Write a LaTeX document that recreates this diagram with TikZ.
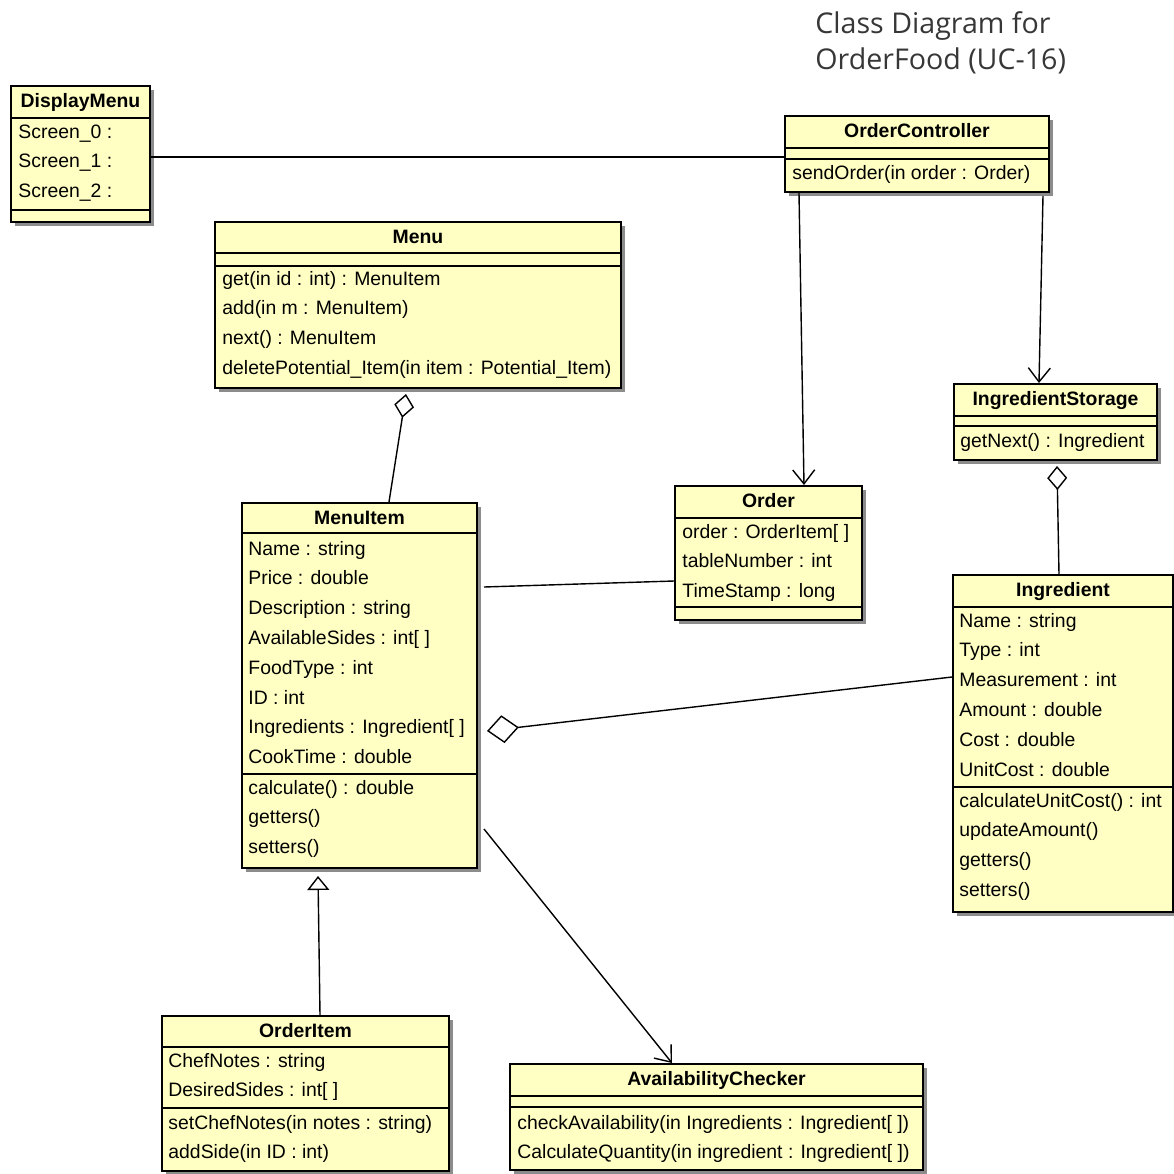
\documentclass[tikz,border=0pt]{standalone}
\usepackage{fontspec}
\setmainfont{Liberation Sans}
\newfontfamily\headfont{Open Sans}
\usetikzlibrary{arrows.meta,shadows,fit,calc}
\definecolor{classfill}{RGB}{255,255,196}
\definecolor{headgrey}{RGB}{55,55,55}

\tikzset{
  classbox/.style={draw=black, line width=1pt, fill=classfill, inner sep=0pt,
    drop shadow={shadow xshift=2pt, shadow yshift=-2pt, opacity=1, fill=black!45}},
  sepline/.style={line width=1pt},
  row/.style={inner sep=0pt, font=\fontsize{9.7}{12}\selectfont},
  ctitle/.style={inner sep=0pt, font=\fontsize{9.7}{12}\selectfont\bfseries},
  assoc/.style={line width=0.7pt},
  nav/.style={assoc, -{Straight Barb[length=7pt,width=11pt]}},
  agg/.style={assoc, -{Diamond[open,length=12pt,width=10pt]}},
  bigagg/.style={assoc, -{Diamond[open,length=16pt,width=14pt]}},
  inherit/.style={assoc, -{Triangle[open,length=7pt,width=11pt]}},
}

% class frame: name, left, top, right, bottom, class name
\newcommand{\umlclass}[6]{%
  \node[classbox, fit={(#2,#3) (#4,#5)}] (#1) {};
  \node[ctitle, anchor=base] (#1-title) at ({(#2+#4)/2},#3+21) {#6};
}
% compartment separator: left, right, y
\newcommand{\csep}[3]{\draw[sepline] (#1,#3) -- (#2,#3);}
% compartment rows: name prefix, x, first baseline, list of rows
\newcommand{\rows}[4]{%
  \foreach \t [count=\i] in {#4} {%
    \node[row, anchor=base west] (#1\i) at (#2,{#3+(\i-1)*29.8}) {\t};}%
}

\begin{document}
\begin{tikzpicture}[x=0.5pt,y=-0.5pt]
\useasboundingbox (0,0) rectangle (1174,1174);
\fill[white] (0,0) rectangle (1174,1174);

% heading (base anchor sits on the last line)
\node[font=\headfont\fontsize{14.3}{18}\selectfont, text=headgrey, align=left,
      anchor=base west, inner sep=0pt] (heading) at (815,69)
      {Class Diagram for\\OrderFood (UC-16)};

% DisplayMenu
\umlclass{dm}{11}{86}{150}{222}{DisplayMenu}
\csep{11}{150}{118}
\csep{11}{150}{210}
\rows{dm-a}{18}{138}{{Screen\_0 :},{Screen\_1 :},{Screen\_2 :}}

% OrderController
\umlclass{oc}{785}{116}{1049}{192}{OrderController}
\csep{785}{1049}{148}
\csep{785}{1049}{159}
\rows{oc-o}{792}{179}{{sendOrder(in order : Order)}}

% Menu
\umlclass{menu}{215}{222}{621}{388}{Menu}
\csep{215}{621}{253}
\csep{215}{621}{266}
\rows{menu-o}{222}{285}{{get(in id : int) : MenuItem},{add(in m : MenuItem)},{next() : MenuItem},{deletePotential\_Item(in item : Potential\_Item)}}

% MenuItem
\umlclass{mi}{242}{503}{477}{868}{MenuItem}
\csep{242}{477}{533}
\csep{242}{477}{774}
\rows{mi-a}{248}{555}{{Name : string},{Price : double},{Description : string},{AvailableSides : int[ ]},{FoodType : int},{ID : int},{Ingredients : Ingredient[ ]},{CookTime : double}}
\rows{mi-o}{248}{794}{{calculate() : double},{getters()},{setters()}}

% Order
\umlclass{order}{675}{486}{862}{620}{Order}
\csep{675}{862}{518}
\csep{675}{862}{607}
\rows{order-a}{682}{538}{{order : OrderItem[ ]},{tableNumber : int},{TimeStamp : long}}

% IngredientStorage
\umlclass{is}{954}{384}{1157}{460}{IngredientStorage}
\csep{954}{1157}{416}
\csep{954}{1157}{426}
\rows{is-o}{960}{447}{{getNext() : Ingredient}}

% Ingredient
\umlclass{ing}{953}{575}{1173}{912}{Ingredient}
\csep{953}{1173}{607}
\csep{953}{1173}{787}
\rows{ing-a}{959}{627}{{Name : string},{Type : int},{Measurement : int},{Amount : double},{Cost : double},{UnitCost : double}}
\rows{ing-o}{959}{807}{{calculateUnitCost() : int},{updateAmount()},{getters()},{setters()}}

% OrderItem
\umlclass{oi}{162}{1016}{449}{1171}{OrderItem}
\csep{162}{449}{1047}
\csep{162}{449}{1108}
\rows{oi-a}{168}{1067}{{ChefNotes : string},{DesiredSides : int[ ]}}
\rows{oi-o}{168}{1129}{{setChefNotes(in notes : string)},{addSide(in ID : int)}}

% AvailabilityChecker
\umlclass{ac}{510}{1064}{923}{1170}{AvailabilityChecker}
\csep{510}{923}{1096}
\csep{510}{923}{1107}
\rows{ac-o}{517}{1129}{{checkAvailability(in Ingredients : Ingredient[ ])},{CalculateQuantity(in ingredient : Ingredient[ ])}}

% relations
\draw[assoc] ([yshift=-1.5pt]dm.east) -- ([yshift=-1.5pt]oc.west);
\draw[nav] ([xshift=7.5pt]oc.south west) -- ([xshift=65pt]order.north west);
\draw[nav] ([xshift=-3.5pt,yshift=-1.5pt]oc.south east) -- ([xshift=43pt]is.north west);
\draw[agg] ([xshift=74pt]mi.north west) -- ([shift={(96pt,-2.5pt)}]menu.south west);
\draw[agg] ([xshift=53.5pt]ing.north west) -- ([shift={(52pt,-2.5pt)}]is.south west);
\draw[bigagg] ([yshift=-51.5pt]ing.north west) -- ([shift={(4.5pt,-114.5pt)}]mi.north east);
\draw[assoc] ([shift={(3pt,-42.5pt)}]mi.north east) -- ([yshift=-48pt]order.north west);
\draw[nav] ([shift={(3pt,-163.5pt)}]mi.north east) -- ([xshift=81.5pt]ac.north west);
\draw[inherit] ([xshift=79.5pt]oi.north west) -- ([shift={(38.5pt,-3.5pt)}]mi.south west);
\end{tikzpicture}
\end{document}
